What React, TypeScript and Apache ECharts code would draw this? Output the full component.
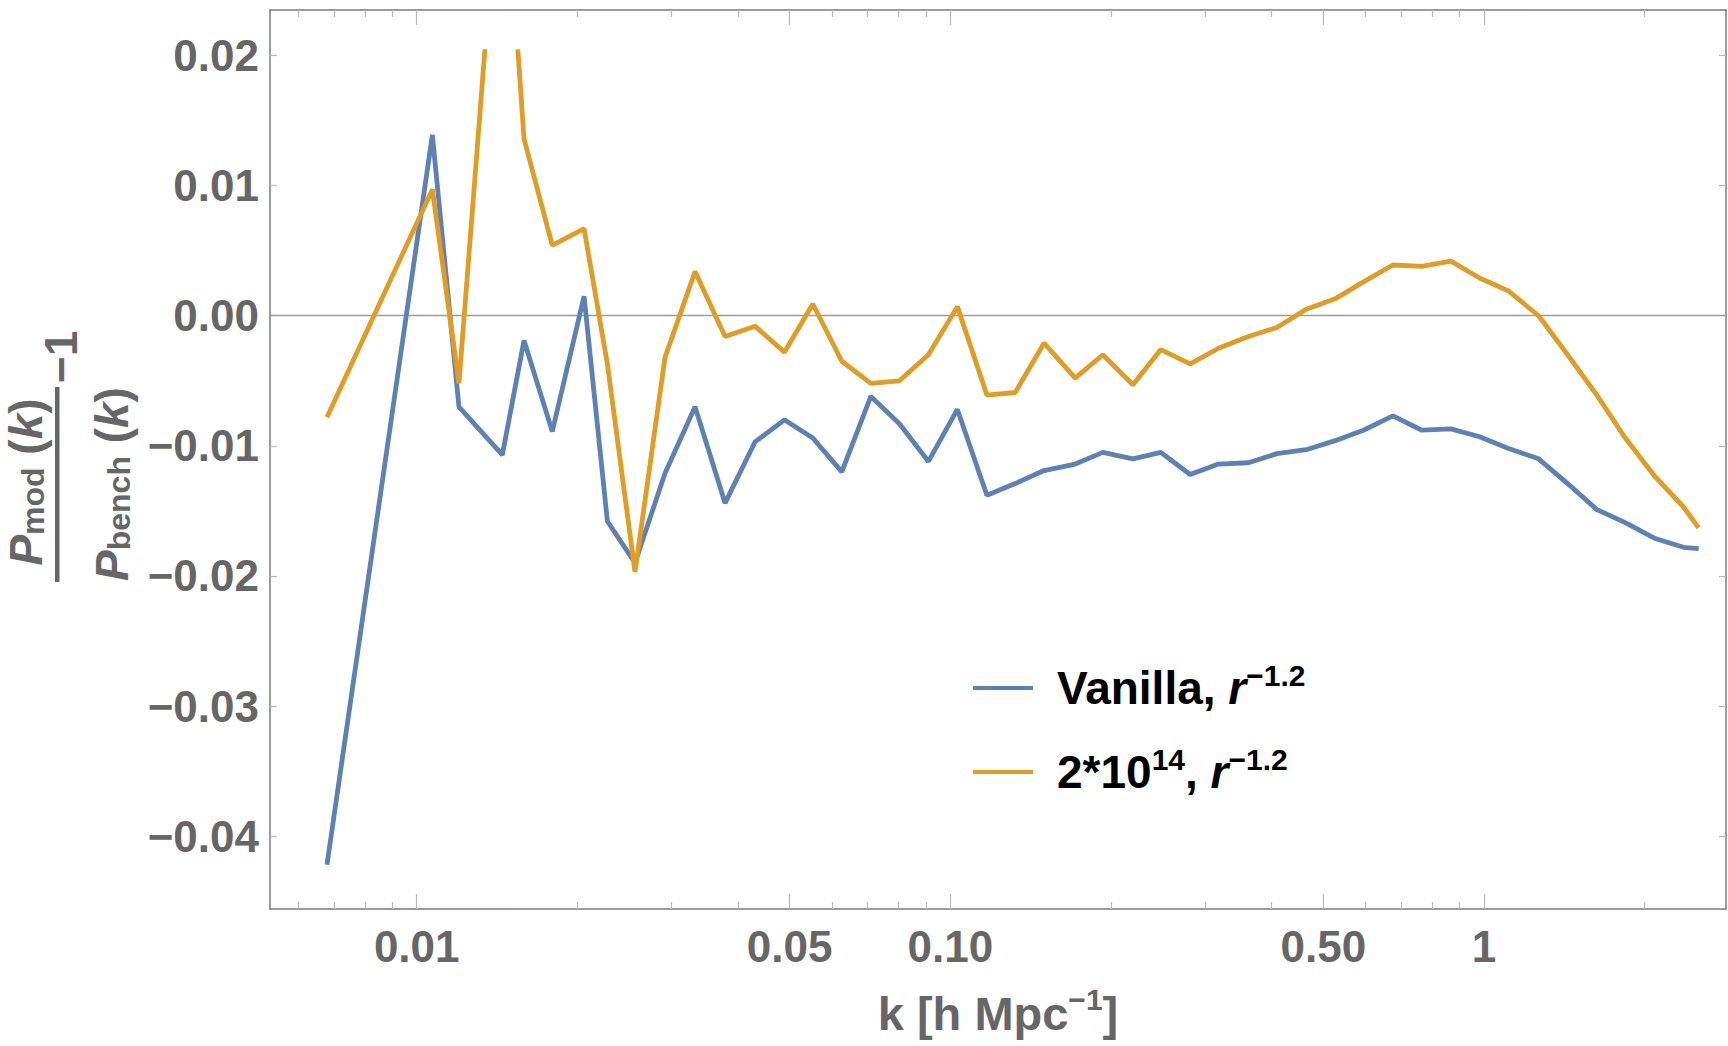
import React, { useEffect, useRef } from "react";
import * as echarts from "echarts";

// ---- data ----
const kValues = [
  0.00679, 0.0107, 0.012, 0.01447, 0.01589, 0.01795, 0.02059, 0.02277, 0.02565, 0.0292,
  0.03324, 0.03783, 0.04305, 0.04887, 0.05525, 0.06261, 0.07096, 0.08028, 0.09099, 0.1031,
  0.1171, 0.1323, 0.1499, 0.1714, 0.1931, 0.2199, 0.248, 0.2815, 0.3181, 0.362,
  0.4093, 0.4645, 0.5263, 0.5946, 0.6753, 0.7651, 0.8674, 0.9812, 1.112, 1.266,
  1.435, 1.628, 1.84, 2.086, 2.366, 2.526,
];
const vanilla = [
  -0.0422, 0.0139, -0.007, -0.0107, -0.0019, -0.0089, 0.0015, -0.0158, -0.019, -0.0121,
  -0.007, -0.0144, -0.0097, -0.008, -0.0094, -0.012, -0.0062, -0.0083, -0.0112, -0.0072,
  -0.0138, -0.0129, -0.0119, -0.0114, -0.0105, -0.011, -0.0105, -0.0122, -0.0114, -0.0113,
  -0.0106, -0.0103, -0.0096, -0.0088, -0.0077, -0.0088, -0.0087, -0.0093, -0.0102, -0.011,
  -0.0129, -0.0149, -0.0159, -0.0171, -0.0178, -0.0179,
];
const massCut = [
  -0.0078, 0.0097, -0.0052, 0.0377, 0.0136, 0.0054, 0.0067, -0.0037, -0.0197, -0.0032,
  0.0034, -0.0016, -0.0008, -0.0028, 0.0009, -0.0035, -0.0052, -0.005, -0.003, 0.0007,
  -0.0061, -0.0059, -0.0021, -0.0048, -0.003, -0.0053, -0.0026, -0.0037, -0.0025, -0.0016,
  -0.0009, 0.0005, 0.0013, 0.0026, 0.0039, 0.0038, 0.0042, 0.0029, 0.0019, 0.0,
  -0.003, -0.0061, -0.0094, -0.0123, -0.0147, -0.0163,
];
const seriesNames = ["Vanilla, r^-1.2", "2*10^14, r^-1.2"];
const xMajorTicks = [0.01, 0.05, 0.1, 0.5, 1];
const xMajorLabels = ["0.01", "0.05", "0.10", "0.50", "1"];
const xMinorTicks = [
  0.006, 0.007, 0.008, 0.009, 0.02, 0.03, 0.04, 0.06, 0.07, 0.08, 0.09, 0.2, 0.3, 0.4, 0.6,
  0.7, 0.8, 0.9, 2,
];
const yTicks = [-0.04, -0.03, -0.02, -0.01, 0, 0.01, 0.02];
const yTickLabels = ["\u22120.04", "\u22120.03", "\u22120.02", "\u22120.01", "0.00", "0.01", "0.02"];

// ---- layout / style ----
const W = 1728;
const H = 1046;
const FRAME_LEFT = 270;
const FRAME_RIGHT = 1726;
const FRAME_TOP = 10;
const FRAME_BOTTOM = 909;
const X_MIN = 0.00531;
const X_MAX = 2.842;
const Y_MIN = -0.0456;
const Y_MAX = 0.0235;
const Y_CLIP = 0.0203;
const BLUE = "#5e81b5";
const ORANGE = "#e19c24";
const FRAME_COLOR = "#7a7a7a";
const TICK_COLOR = "#b8b8b8";
const LABEL_COLOR = "#666666";
const FONT = "'Liberation Sans', Arial, Helvetica, sans-serif";
const LINE_W = 4.8;

const gridW = FRAME_RIGHT - FRAME_LEFT;
const gridH = FRAME_BOTTOM - FRAME_TOP;
const clipTop = FRAME_TOP + ((Y_MAX - Y_CLIP) / (Y_MAX - Y_MIN)) * gridH;

function xLabel(v: number): string {
  const i = xMajorTicks.findIndex((t) => Math.abs(t - v) / t < 1e-6);
  return i >= 0 ? xMajorLabels[i] : "";
}
function yLabel(v: number): string {
  const i = yTicks.findIndex((t) => Math.abs(t - v) < 1e-9);
  return i >= 0 ? yTickLabels[i] : "";
}

const baseX = { type: "log", logBase: 10, min: X_MIN, max: X_MAX, splitLine: { show: false }, minorTick: { show: false } };

const fracRich = {
  p: { fontSize: 46, fontWeight: "bold", fontStyle: "italic", fontFamily: FONT, lineHeight: 46, fill: LABEL_COLOR },
  m: { fontSize: 46, fontWeight: "bold", fontFamily: FONT, lineHeight: 46, fill: LABEL_COLOR },
  sub: { fontSize: 32, fontWeight: "bold", fontFamily: FONT, lineHeight: 22, verticalAlign: "bottom", fill: LABEL_COLOR },
};

function buildOption(): any {
  const tickLine = { color: TICK_COLOR, width: 1.2 };
  const frameLine = { show: true, onZero: false, lineStyle: { color: FRAME_COLOR, width: 1.5 } };
  return {
    animation: false,
    backgroundColor: "#ffffff",
    grid: [
      { left: FRAME_LEFT, top: FRAME_TOP, width: gridW, height: gridH, containLabel: false },
      { left: FRAME_LEFT, top: clipTop, width: gridW, height: FRAME_BOTTOM - clipTop, containLabel: false },
    ],
    xAxis: [
      {
        ...baseX,
        gridIndex: 0,
        position: "bottom",
        axisLine: frameLine,
        axisTick: { show: true, inside: true, length: 15, customValues: xMajorTicks, lineStyle: tickLine },
        axisLabel: {
          show: true,
          customValues: xMajorTicks,
          formatter: (v: number) => xLabel(v),
          margin: 15,
          fontSize: 44,
          fontWeight: "bold",
          fontFamily: FONT,
          color: LABEL_COLOR,
        },
      },
      {
        ...baseX,
        gridIndex: 0,
        position: "bottom",
        axisLine: { show: false, onZero: false },
        axisTick: { show: true, inside: true, length: 7, customValues: xMinorTicks, lineStyle: tickLine },
        axisLabel: { show: false },
      },
      {
        ...baseX,
        gridIndex: 0,
        position: "top",
        axisLine: frameLine,
        axisTick: { show: true, inside: true, length: 15, customValues: xMajorTicks, lineStyle: tickLine },
        axisLabel: { show: false },
      },
      {
        ...baseX,
        gridIndex: 0,
        position: "top",
        axisLine: { show: false, onZero: false },
        axisTick: { show: true, inside: true, length: 7, customValues: xMinorTicks, lineStyle: tickLine },
        axisLabel: { show: false },
      },
      { ...baseX, gridIndex: 1, show: false },
    ],
    yAxis: [
      {
        type: "value",
        gridIndex: 0,
        min: Y_MIN,
        max: Y_MAX,
        position: "left",
        axisLine: frameLine,
        axisTick: { show: true, inside: true, length: 7, customValues: yTicks, lineStyle: tickLine },
        axisLabel: {
          show: true,
          customValues: yTicks,
          formatter: (v: number) => yLabel(v),
          margin: 11,
          fontSize: 44,
          fontWeight: "bold",
          fontFamily: FONT,
          color: LABEL_COLOR,
        },
        splitLine: { show: false },
      },
      {
        type: "value",
        gridIndex: 0,
        min: Y_MIN,
        max: Y_MAX,
        position: "right",
        axisLine: frameLine,
        axisTick: { show: true, inside: true, length: 7, customValues: yTicks, lineStyle: tickLine },
        axisLabel: { show: false },
        splitLine: { show: false },
      },
      { type: "value", gridIndex: 1, min: Y_MIN, max: Y_CLIP, show: false, splitLine: { show: false } },
    ],
    legend: {
      orient: "vertical",
      left: 973,
      top: 660,
      padding: 0,
      itemWidth: 60,
      itemHeight: 4,
      itemGap: 33,
      icon: "rect",
      selectedMode: false,
      data: seriesNames,
      formatter: (name: string) =>
        name === seriesNames[0]
          ? "{b|Vanilla, }{i|r}{s|\u22121.2}"
          : "{b|2*10}{s|14}{b|, }{i|r}{s|\u22121.2}",
      textStyle: {
        color: "#000000",
        fontFamily: FONT,
        fontSize: 46,
        fontWeight: "bold",
        padding: [0, 0, 0, 19],
        rich: {
          b: { fontSize: 46, fontWeight: "bold", fontFamily: FONT, lineHeight: 56, color: "#000000" },
          i: { fontSize: 46, fontWeight: "bold", fontStyle: "italic", fontFamily: FONT, lineHeight: 56, color: "#000000" },
          s: { fontSize: 30, fontWeight: "bold", fontFamily: FONT, lineHeight: 30, verticalAlign: "top", color: "#000000" },
        },
      },
    },
    graphic: [
      {
        type: "text",
        x: (FRAME_LEFT + FRAME_RIGHT) / 2,
        y: 1013,
        silent: true,
        style: {
          text: "{a|k [h Mpc}{s|\u22121}{a|]}",
          align: "center",
          verticalAlign: "middle",
          fill: LABEL_COLOR,
          fontFamily: FONT,
          fontWeight: "bold",
          fontSize: 47,
          rich: {
            a: { fontSize: 47, fontWeight: "bold", fontFamily: FONT, lineHeight: 58, fill: LABEL_COLOR },
            s: { fontSize: 30, fontWeight: "bold", fontFamily: FONT, lineHeight: 28, verticalAlign: "top", fill: LABEL_COLOR },
          },
        },
      },
      {
        type: "text",
        x: 26,
        y: 482,
        rotation: Math.PI / 2,
        silent: true,
        style: {
          text: "{p|P}{sub|mod}{m| (}{p|k}{m|)}",
          align: "center",
          verticalAlign: "middle",
          fill: LABEL_COLOR,
          fontFamily: FONT,
          fontWeight: "bold",
          fontSize: 46,
          rich: fracRich,
        },
      },
      {
        type: "rect",
        silent: true,
        shape: { x: 55, y: 387, width: 4.5, height: 195 },
        style: { fill: LABEL_COLOR },
      },
      {
        type: "text",
        x: 61,
        y: 357,
        rotation: Math.PI / 2,
        silent: true,
        style: {
          text: "\u22121",
          align: "center",
          verticalAlign: "middle",
          fill: LABEL_COLOR,
          fontFamily: FONT,
          fontWeight: "bold",
          fontSize: 46,
        },
      },
      {
        type: "text",
        x: 112,
        y: 484,
        rotation: Math.PI / 2,
        silent: true,
        style: {
          text: "{p|P}{sub|bench}{m| (}{p|k}{m|)}",
          align: "center",
          verticalAlign: "middle",
          fill: LABEL_COLOR,
          fontFamily: FONT,
          fontWeight: "bold",
          fontSize: 46,
          rich: fracRich,
        },
      },
    ],
    series: [
      {
        type: "line",
        name: seriesNames[0],
        xAxisIndex: 4,
        yAxisIndex: 2,
        data: kValues.map((k, i) => [k, vanilla[i]]),
        showSymbol: false,
        symbol: "none",
        clip: true,
        lineStyle: { color: BLUE, width: LINE_W },
        itemStyle: { color: BLUE },
        emphasis: { disabled: true },
        z: 3,
        markLine: {
          silent: true,
          symbol: ["none", "none"],
          label: { show: false },
          lineStyle: { color: "#9c9c9c", width: 1.4, type: "solid" },
          emphasis: { disabled: true },
          data: [{ yAxis: 0 }],
          z: 1,
        },
      },
      {
        type: "line",
        name: seriesNames[1],
        xAxisIndex: 4,
        yAxisIndex: 2,
        data: kValues.map((k, i) => [k, massCut[i]]),
        showSymbol: false,
        symbol: "none",
        clip: true,
        lineStyle: { color: ORANGE, width: LINE_W },
        itemStyle: { color: ORANGE },
        emphasis: { disabled: true },
        z: 4,
      },
    ],
  };
}

export default function App() {
  const ref = useRef<HTMLDivElement>(null);
  useEffect(() => {
    if (!ref.current) return;
    const chart = echarts.init(ref.current, undefined, { renderer: "svg" });
    chart.setOption(buildOption());
    return () => chart.dispose();
  }, []);
  return (
    <div
      ref={ref}
      style={{ position: "absolute", left: 0, top: 0, width: W, height: H, background: "#ffffff" }}
    />
  );
}
